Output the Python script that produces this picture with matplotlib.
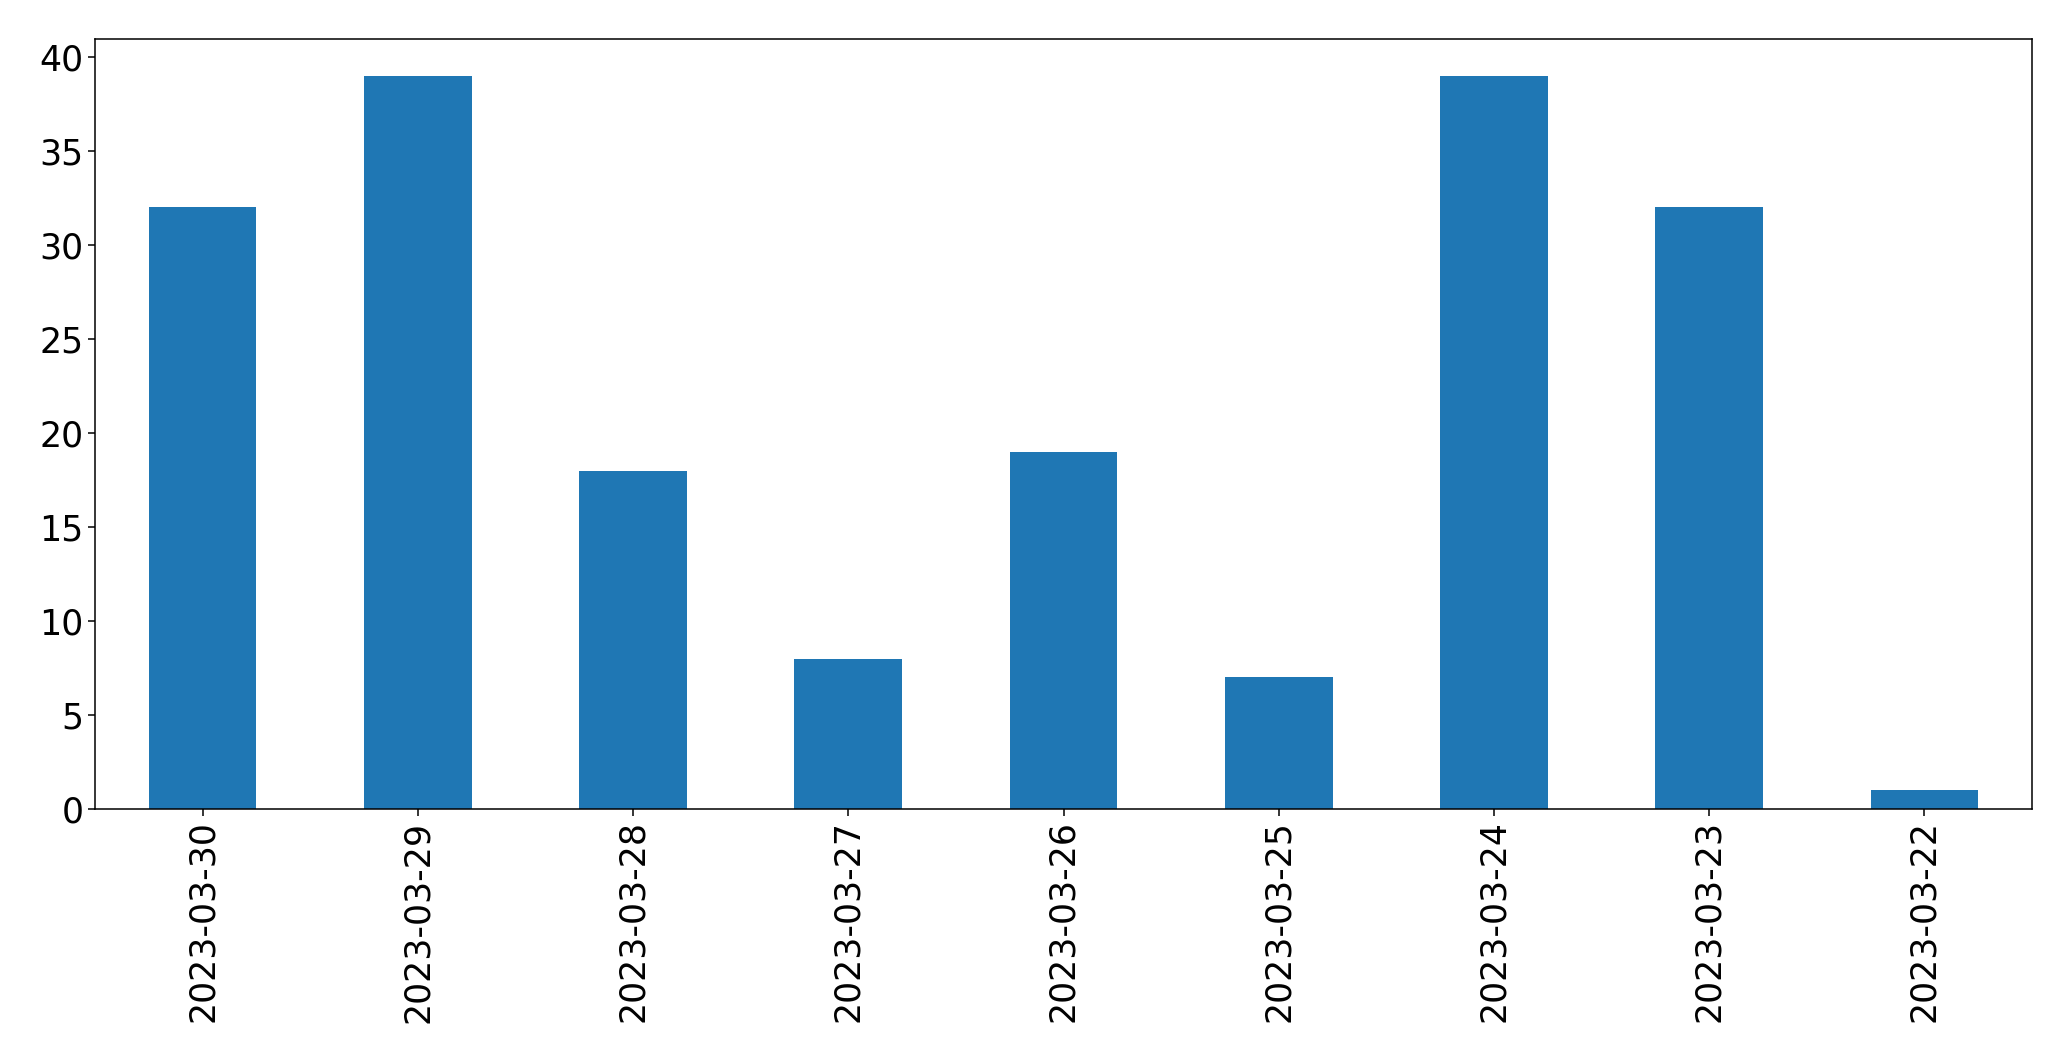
import matplotlib
matplotlib.use("Agg")
import matplotlib.pyplot as plt
import numpy as np

dates = ["2023-03-30", "2023-03-29", "2023-03-28", "2023-03-27", "2023-03-26",
         "2023-03-25", "2023-03-24", "2023-03-23", "2023-03-22"]
counts = [32, 39, 18, 8, 19, 7, 39, 32, 1]

fig = plt.figure(figsize=(20.71, 10.61), dpi=100)
ax = fig.add_axes([95 / 2071, 1 - 809 / 1061, (2032 - 95) / 2071, (809 - 39) / 1061])
x = np.arange(len(dates))
ax.bar(x, counts, width=0.5, color="#1f77b4")
ax.set_xlim(-0.5, len(dates) - 0.5)
ax.set_ylim(0, 40.95)
ax.set_xticks(x)
ax.set_xticklabels(dates, rotation=90)
ax.tick_params(axis="both", labelsize=25, length=4.7, width=1.1)
for s in ax.spines.values():
    s.set_linewidth(1.1)
fig.savefig("out.png", dpi=100)
